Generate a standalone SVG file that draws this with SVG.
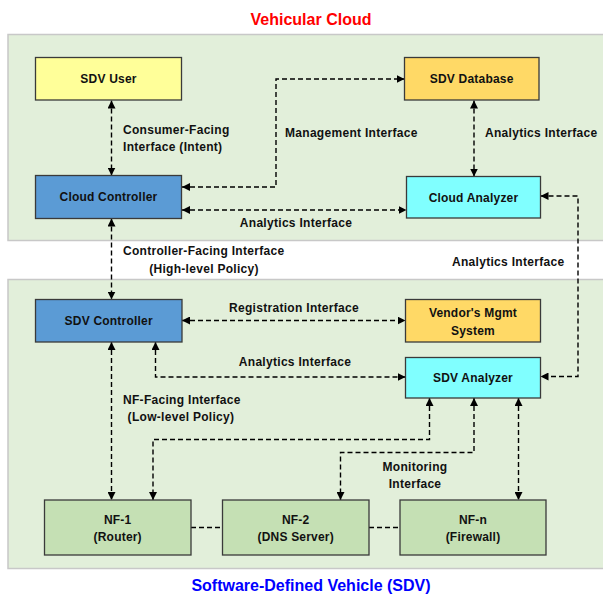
<svg xmlns="http://www.w3.org/2000/svg" width="603" height="594" viewBox="0 0 603 594">
<defs>
<marker id="arr" viewBox="0 0 10 10" refX="10" refY="5" markerUnits="userSpaceOnUse" markerWidth="8" markerHeight="8" orient="auto-start-reverse">
<path d="M0,0 L10,5 L0,10 z" fill="#000"/>
</marker>
<style>
.panel{fill:#E2EFDA;stroke:#C8C8C8;stroke-width:1.5}
.box{stroke:#3A3A3A;stroke-width:1.3}
.nt{font-family:"Liberation Sans",Arial,sans-serif;font-weight:bold;font-size:12px;fill:#111;text-anchor:middle;letter-spacing:0.2px}
.lb{font-family:"Liberation Sans",Arial,sans-serif;font-weight:bold;font-size:12px;fill:#111;letter-spacing:0.3px}
.c{text-anchor:middle}
.ln{fill:none;stroke:#000;stroke-width:1.4;stroke-dasharray:5 3}
.ba{marker-start:url(#arr);marker-end:url(#arr)}
.title{font-family:"Liberation Sans",Arial,sans-serif;font-weight:bold;font-size:16px;text-anchor:middle}
</style>
</defs>
<rect width="603" height="594" fill="#fff"/>
<rect class="panel" x="8" y="34.5" width="602" height="206"/>
<rect class="panel" x="8" y="279.5" width="602" height="289"/>
<text class="title" x="311" y="25" fill="#FF0000">Vehicular Cloud</text>
<text class="title" x="311" y="591" fill="#0000FF">Software-Defined Vehicle (SDV)</text>

<g id="connectors">
<path class="ln ba" d="M111.5,100.5 V175.5"/>
<path class="ln ba" d="M182,187 H276 V79 H404.5"/>
<path class="ln ba" d="M474,100.5 V176.5"/>
<path class="ln ba" d="M182,210 H406.5"/>
<path class="ln ba" d="M540.5,196 H578 V376.5 H540.5"/>
<path class="ln ba" d="M111.5,218.5 V299.5"/>
<path class="ln ba" d="M182,320.5 H405.5"/>
<path class="ln ba" d="M155.5,342 V377 H405.5"/>
<path class="ln ba" d="M111.5,342 V500"/>
<path class="ln ba" d="M429.5,398 V439.5 H153 V500"/>
<path class="ln ba" d="M474,398 V452.5 H340.5 V500"/>
<path class="ln ba" d="M518.5,398 V500"/>
<path class="ln" d="M191,527.5 H222"/>
<path class="ln" d="M369,527.5 H400"/>
</g>

<g id="labels">
<text class="lb" x="123" y="134">Consumer-Facing</text>
<text class="lb" x="123" y="151">Interface (Intent)</text>
<text class="lb" x="285" y="137">Management Interface</text>
<text class="lb" x="485" y="137">Analytics Interface</text>
<text class="lb c" x="296" y="227">Analytics Interface</text>
<text class="lb" x="123" y="255">Controller-Facing Interface</text>
<text class="lb c" x="204" y="273">(High-level Policy)</text>
<text class="lb" x="452" y="266">Analytics Interface</text>
<text class="lb c" x="294" y="312">Registration Interface</text>
<text class="lb c" x="295" y="366">Analytics Interface</text>
<text class="lb" x="123" y="404">NF-Facing Interface</text>
<text class="lb c" x="181" y="421">(Low-level Policy)</text>
<text class="lb c" x="415" y="471">Monitoring</text>
<text class="lb c" x="415" y="488">Interface</text>
</g>

<g id="sdv-user"><rect class="box" x="35.5" y="57.5" width="146" height="42.5" fill="#FFFF99"/><text class="nt" x="108.5" y="83">SDV User</text></g>
<g id="sdv-database"><rect class="box" x="404.5" y="57.5" width="134.5" height="42.5" fill="#FFD966"/><text class="nt" x="471.7" y="83">SDV Database</text></g>
<g id="cloud-controller"><rect class="box" x="35.5" y="175.5" width="146" height="43" fill="#5B9BD5"/><text class="nt" x="108.5" y="201">Cloud Controller</text></g>
<g id="cloud-analyzer"><rect class="box" x="406.5" y="176.5" width="134" height="41.5" fill="#80FFFF"/><text class="nt" x="473.5" y="201.5">Cloud Analyzer</text></g>
<g id="sdv-controller"><rect class="box" x="35.5" y="299.5" width="146.5" height="42.5" fill="#5B9BD5"/><text class="nt" x="108.7" y="325">SDV Controller</text></g>
<g id="vendor-mgmt"><rect class="box" x="405.5" y="299.5" width="135" height="42.5" fill="#FFD966"/><text class="nt" x="473" y="317">Vendor's Mgmt</text><text class="nt" x="473" y="334.5">System</text></g>
<g id="sdv-analyzer"><rect class="box" x="405.5" y="357.5" width="135" height="40.5" fill="#80FFFF"/><text class="nt" x="473" y="382">SDV Analyzer</text></g>
<g id="nf-1"><rect class="box" x="44.5" y="500" width="146.5" height="55" fill="#C5E0B4"/><text class="nt" x="117.7" y="523.5">NF-1</text><text class="nt" x="117.7" y="541">(Router)</text></g>
<g id="nf-2"><rect class="box" x="222.5" y="500" width="146.5" height="55" fill="#C5E0B4"/><text class="nt" x="295.7" y="523.5">NF-2</text><text class="nt" x="295.7" y="541">(DNS Server)</text></g>
<g id="nf-n"><rect class="box" x="400" y="500" width="146" height="55" fill="#C5E0B4"/><text class="nt" x="473" y="523.5">NF-n</text><text class="nt" x="473" y="541">(Firewall)</text></g>
</svg>
